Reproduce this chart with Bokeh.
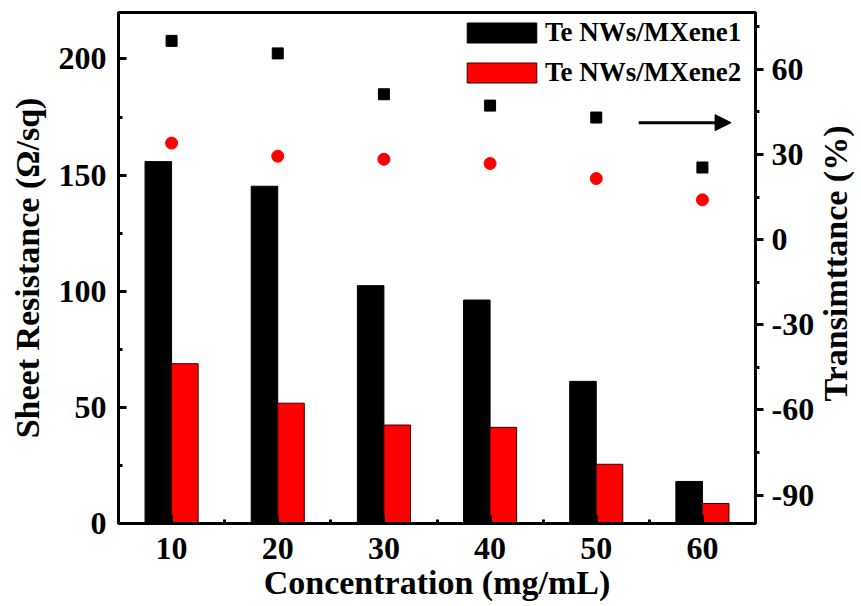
import math
import numpy as np
from bokeh.plotting import figure
from bokeh.models import (Range1d, LinearAxis, SingleIntervalTicker, Legend, LegendItem,
                          Arrow, NormalHead, Label, PrintfTickFormatter)
from bokeh.embed import file_html
from bokeh.resources import INLINE

# ---- data ----
concentration = [10, 20, 30, 40, 50, 60]
resistance_1 = [155.8, 145.2, 102.4, 96.2, 61.2, 18.1]
resistance_2 = [68.8, 51.8, 42.4, 41.4, 25.5, 8.6]
transmittance_1 = [70.0, 65.6, 51.2, 47.2, 43.0, 25.4]
transmittance_2 = [34.0, 29.4, 28.3, 26.8, 21.5, 14.0]
series_labels = ["Te NWs/MXene1", "Te NWs/MXene2"]
x_title = "Concentration (mg/mL)"
y_title = "Sheet Resistance (Ω/sq)"
y2_title = "Transimttance (%)"
arrow_x = [54.0, 62.7]
arrow_y = [41.2, 41.2]

FONT = "Liberation Serif"
bar_w = 2.5

p = figure(width=861, height=606, output_backend="svg", toolbar_location=None,
           x_range=Range1d(5, 65), y_range=Range1d(0, 220),
           min_border_left=118, min_border_right=106, min_border_top=12, min_border_bottom=83)
p.background_fill_color = "white"
p.border_fill_color = "white"
p.grid.visible = False
p.outline_line_color = "black"
p.outline_line_width = 3

x = np.array(concentration, dtype=float)
b1 = p.vbar(x=x - bar_w / 2, top=resistance_1, width=bar_w, bottom=0,
            fill_color="black", line_color="black", line_width=1)
b2 = p.vbar(x=x + bar_w / 2, top=resistance_2, width=bar_w, bottom=0,
            fill_color="#ff0000", line_color="#3a0000", line_width=1)

p.extra_y_ranges = {"T": Range1d(-100, 80)}
p.scatter(x, transmittance_1, marker="square", size=11, fill_color="black",
          line_color="black", y_range_name="T")
p.scatter(x, transmittance_2, marker="circle", size=12, fill_color="#ff0000",
          line_color="#ff0000", y_range_name="T")

p.add_layout(Arrow(end=NormalHead(size=16, fill_color="black", line_color="black"),
                   x_start=arrow_x[0], y_start=arrow_y[0], x_end=arrow_x[1], y_end=arrow_y[1],
                   y_range_name="T", line_width=3, line_color="black"))

# axes styling
def style_axis(ax, inward=True):
    ax.axis_line_width = 3
    ax.axis_line_color = "black"
    ax.major_tick_line_width = 3
    ax.minor_tick_line_width = 3
    if inward:
        ax.major_tick_in = 8
        ax.major_tick_out = 0
        ax.minor_tick_in = 4
        ax.minor_tick_out = 0
    else:
        ax.major_tick_in = 0
        ax.major_tick_out = 8
        ax.minor_tick_in = 0
        ax.minor_tick_out = 4
    ax.major_label_text_font = FONT
    ax.major_label_text_font_style = "bold"
    ax.major_label_text_font_size = "32px"
    ax.major_label_text_color = "black"
    ax.axis_label_text_font = FONT
    ax.axis_label_text_font_style = "bold"
    ax.axis_label_text_font_size = "34px"
    ax.axis_label_text_color = "black"

xa = p.xaxis[0]
xa.ticker = SingleIntervalTicker(interval=10, num_minor_ticks=2)
xa.axis_label = x_title
style_axis(xa)
xa.major_label_standoff = 14
xa.axis_label_standoff = 2

ya = p.yaxis[0]
ya.ticker = SingleIntervalTicker(interval=50, num_minor_ticks=2)
ya.axis_label = y_title
style_axis(ya)
ya.major_label_standoff = 12
ya.axis_label_standoff = 10

ra = LinearAxis(y_range_name="T", ticker=SingleIntervalTicker(interval=30, num_minor_ticks=2),
                formatter=PrintfTickFormatter(format="%d"))
style_axis(ra, inward=False)
ra.major_label_standoff = 8
p.add_layout(ra, "right")

# right axis title, reading bottom-to-top like the reference (placed in the right side panel)
p.add_layout(Label(x=18, y=260, x_units="screen", y_units="screen", text=y2_title,
                   angle=math.pi / 2, text_align="center", text_baseline="middle",
                   text_font=FONT, text_font_style="bold", text_font_size="34px",
                   text_color="black"), "right")

legend = Legend(items=[LegendItem(label=series_labels[0], renderers=[b1]),
                       LegendItem(label=series_labels[1], renderers=[b2])],
                location=(340, 435), glyph_width=87, glyph_height=25, label_height=20,
                label_standoff=0, padding=0, spacing=9, margin=0,
                border_line_color=None, background_fill_alpha=0)
legend.label_text_font = FONT
legend.label_text_font_style = "bold"
legend.label_text_font_size = "27px"
legend.label_text_color = "black"
p.add_layout(legend)

open("out.html", "w").write(file_html(p, INLINE))
